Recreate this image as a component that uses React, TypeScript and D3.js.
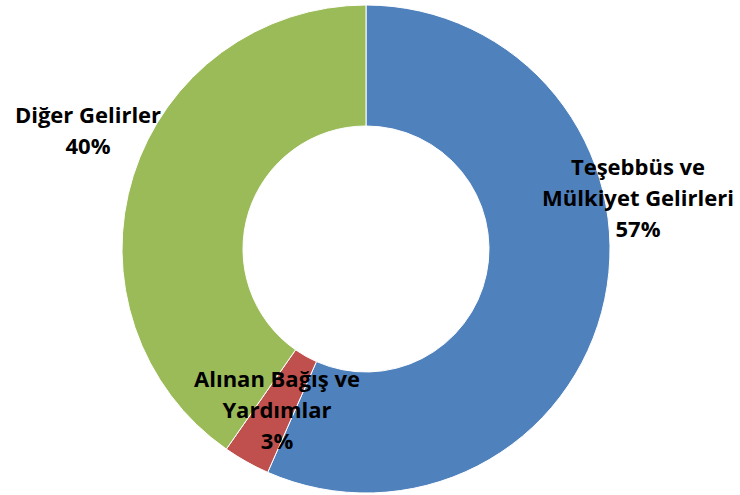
import React from "react";
import * as d3 from "d3";

const categories = ["Teşebbüs ve Mülkiyet Gelirleri", "Alınan Bağış ve Yardımlar", "Diğer Gelirler"];
const values = [56.6, 3.1, 40.3];
const percentLabels = ["57%", "3%", "40%"];
const labelLines = [["Teşebbüs ve", "Mülkiyet Gelirleri", "57%"], ["Alınan Bağış ve", "Yardımlar", "3%"], ["Diğer Gelirler", "40%"]];
const colors = ["#4F81BD", "#C0504D", "#9BBB59"];

const W = 740, H = 495;
const cx = 366, cy = 249, R = 244, r = 123;
// label anchor positions (center of text block), chosen to match reference layout
const labelPos: [number, number][] = [[638, 198], [277, 410], [88, 131]];

export default function App() {
  const pie = d3.pie<number>().sort(null).value((d) => d);
  const arcs = pie(values);
  const arc = d3.arc<d3.PieArcDatum<number>>().innerRadius(r).outerRadius(R);
  const lh = 31;
  return (
    <svg width={W} height={H} style={{ position: "absolute", left: 0, top: 0 }}>
      <rect width={W} height={H} fill="#fff" />
      <g transform={`translate(${cx},${cy})`}>
        {arcs.map((a, i) => (
          <path key={categories[i]} d={arc(a) || ""} fill={colors[i]} stroke="#fff" strokeWidth={1} />
        ))}
      </g>
      {labelLines.map((lines, i) => {
        const [x, y] = labelPos[i];
        const y0 = y - ((lines.length - 1) * lh) / 2;
        return (
          <text key={i} x={x} textAnchor="middle" fontFamily="'Open Sans', sans-serif" fontWeight="bold" fontSize={22} fill="#000">
            {lines.map((l, j) => (
              <tspan key={j} x={x} y={y0 + j * lh} dy="0.35em">{l}</tspan>
            ))}
          </text>
        );
      })}
    </svg>
  );
}
